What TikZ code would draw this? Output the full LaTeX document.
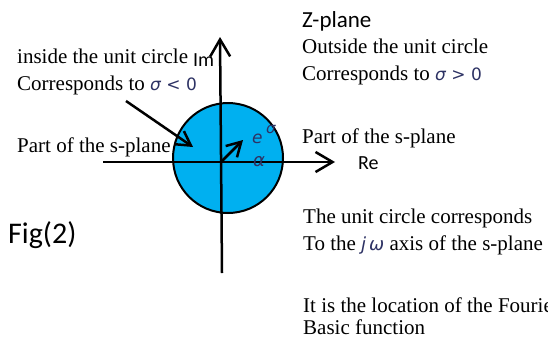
\documentclass[tikz,border=0pt]{standalone}
\usepackage{fontspec}
\setmainfont{Liberation Serif}
\newfontfamily\calib{Carlito}
\newfontfamily\symfont{DejaVu Sans}
\usetikzlibrary{arrows.meta}
\definecolor{zcyan}{RGB}{0,176,240}
\definecolor{mathc}{RGB}{45,50,100}
\newcommand{\msym}[1]{{\symfont\color{mathc}#1}}
\begin{document}
\begin{tikzpicture}[x=1pt,y=-1pt,
  lbl/.style={anchor=base west,inner sep=0pt,font=\fontsize{21}{25}\selectfont},
  clbl/.style={anchor=base west,inner sep=0pt},
  axisline/.style={line width=2.5pt,-{Straight Barb[length=17pt,width=20pt]}},
  ptr/.style={line width=2.5pt,-{Straight Barb[length=14pt,width=16pt]}}]
\useasboundingbox (0,0) rectangle (548,340);
\fill[white] (0,0) rectangle (548,340);
% unit circle
\node[circle,draw,fill=zcyan,line width=2pt,minimum size=110pt,inner sep=0pt] (uc) at (228,158) {};
% axes
\coordinate (vb) at (222,273);
\coordinate (vt) at (220,37);
\coordinate (hl) at (103,162);
\coordinate (hr) at (335,162);
\draw[axisline] (vb) -- (vt);
\draw[axisline] (hl) -- (hr);
% pointers
\coordinate (ds) at (126,101);
\coordinate (de) at (193,147);
\draw[ptr] (ds) -- (de);
\coordinate (o) at (221,162);
\coordinate (se) at (243,140);
\draw[ptr] (o) -- (se);
% symbols in circle
\node[clbl,font=\fontsize{17}{20}\selectfont] (e) at (252,143) {\msym{\itshape e}};
\node[clbl,font=\fontsize{15}{16}\selectfont] (esig) at (266,133) {\msym{\itshape σ}};
\node[clbl,font=\fontsize{18}{20}\selectfont] (alp) at (253,166) {\msym{\itshape α}};
% axis labels
\node[clbl,font=\calib\fontsize{20}{24}\selectfont] (im) at (193,66) {Im};
\node[clbl,font=\calib\fontsize{20}{24}\selectfont] (re) at (358,169) {Re};
\node[clbl,font=\calib\fontsize{23}{26}\selectfont] (zp) at (302,27) {Z-plane};
\node[clbl,font=\calib\fontsize{30}{34}\selectfont] (fig) at (8,243) {Fig(2)};
% left texts
\node[lbl] (l1) at (17,63) {inside the unit circle};
\node[lbl] (l2) at (17,90) {Corresponds to \msym{\fontsize{17}{20}\selectfont{\itshape σ} < 0}};
\node[lbl] (l3) at (17,152) {Part of the s-plane};
% right texts
\node[lbl] (r1) at (302,53) {Outside the unit circle};
\node[lbl] (r2) at (302,80) {Corresponds to \msym{\fontsize{17}{20}\selectfont{\itshape σ} > 0}};
\node[lbl] (r3) at (302,143) {Part of the s-plane};
\node[lbl] (r4) at (303,223) {The unit circle corresponds};
\node[lbl] (r5) at (303,250) {To the \msym{\fontsize{18}{20}\selectfont\itshape j\,ω} axis of the s-plane};
\node[lbl] (r6) at (303,312) {It is the location of the Fourier};
\node[lbl] (r7) at (303,334) {Basic function};
\end{tikzpicture}
\end{document}
